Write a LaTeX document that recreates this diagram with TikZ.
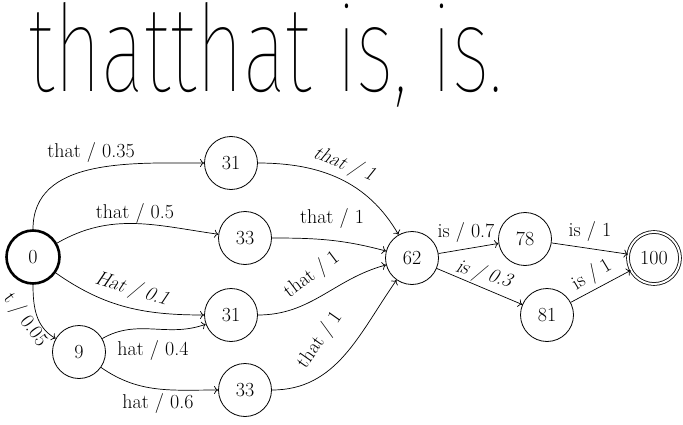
\documentclass[tikz,border=0pt]{standalone}
\usepackage{fontspec}
\usetikzlibrary{arrows.meta}
\newfontfamily\handfont{Fira Sans Thin}
\newcommand\lblfont{\fontsize{20}{23}\selectfont}
\begin{document}
\begin{tikzpicture}[x=1pt,y=1pt,
  st/.style={circle,draw,line width=0.8pt,minimum size=53pt,inner sep=0pt,font=\lblfont},
  ed/.style={-{To[length=4pt,width=8pt]},line width=0.7pt},
  lb/.style={font=\lblfont,inner sep=0pt},
  sh/.style={xslant=0.3}]
\useasboundingbox (0,0) rectangle (683,424);
% handwriting
\node[anchor=base west,inner sep=0pt] (hw) at (28,332)
  {\resizebox{474pt}{89pt}{\handfont thatthat is, is.}};
% states
\node[st,line width=2.6pt] (n0) at (33,167) {0};
\node[st] (n31a) at (231,261) {31};
\node[st] (n33a) at (245,186) {33};
\node[st] (n31b) at (231,109) {31};
\node[st] (n9) at (79,72) {9};
\node[st] (n33b) at (245,34) {33};
\node[st] (n62) at (412,166) {62};
\node[st] (n78) at (525,185) {78};
\node[st] (n81) at (547,109) {81};
\node[st,double,double distance=2pt,minimum size=52pt] (n100) at (654,166) {100};
% edges
\draw[ed] (n0) to[out=90,in=180] (n31a);
\draw[ed] (n0) to[out=30,in=172] (n33a);
\draw[ed] (n0) to[out=-35,in=180] (n31b);
\draw[ed] (n0) to[out=-90,in=150] (n9);
\draw[ed] (n9) to[out=30,in=200] (n31b);
\draw[ed] (n9) to[out=-35,in=180] (n33b);
\draw[ed] (n31a) to[out=0,in=120] (n62);
\draw[ed] (n33a) to[out=0,in=165] (n62);
\draw[ed] (n31b) to[out=0,in=195] (n62);
\draw[ed] (n33b) to[out=0,in=235] (n62);
\draw[ed] (n62) -- (n78);
\draw[ed] (n62) -- (n81);
\draw[ed] (n78) -- (n100);
\draw[ed] (n81) -- (n100);
% labels
\node[lb] (l1) at (91,271) {that / 0.35};
\node[lb] (l2) at (135,211) {that / 0.5};
\node[lb,rotate=-17,sh] (l3) at (133,134) {Hat / 0.1};
\node[lb,rotate=-54] (l4) at (25,104) {t / 0.05};
\node[lb] (l5) at (153,74) {hat / 0.4};
\node[lb] (l6) at (158,21) {hat / 0.6};
\node[lb,rotate=-22,sh] (l7) at (345,259) {that / 1};
\node[lb] (l8) at (332,206) {that / 1};
\node[lb,rotate=37] (l9) at (312,149) {that / 1};
\node[lb,rotate=55] (l10) at (320,84) {that / 1};
\node[lb] (l11) at (466,192) {is / 0.7};
\node[lb,rotate=-17,sh] (l12) at (485,149) {is / 0.3};
\node[lb] (l13) at (590,193) {is / 1};
\node[lb,rotate=31] (l14) at (592,149) {is / 1};
\end{tikzpicture}
\end{document}
